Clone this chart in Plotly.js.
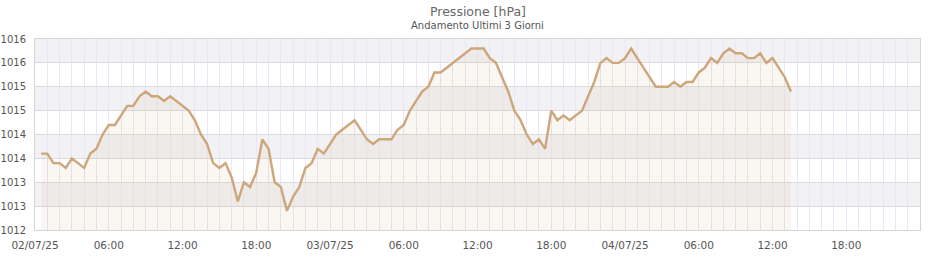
<!DOCTYPE html>
<html>
<head>
<meta charset="utf-8">
<script src="https://cdn.plot.ly/plotly-3.0.1.min.js"></script>
<style>html,body{margin:0;padding:0;background:#fff}#chart{width:940px;height:260px}</style>
</head>
<body>
<div id="chart"></div>
<script>
// ---- data ----
var seriesStart = '2025-07-02T00:30:00';
var stepMinutes = 30;
var pressure = [
  1013.6, 1013.6, 1013.4, 1013.4, 1013.3, 1013.5, 1013.4, 1013.3, 1013.6, 1013.7,
  1014.0, 1014.2, 1014.2, 1014.4, 1014.6, 1014.6, 1014.8, 1014.9, 1014.8, 1014.8,
  1014.7, 1014.8, 1014.7, 1014.6, 1014.5, 1014.3, 1014.0, 1013.8, 1013.4, 1013.3,
  1013.4, 1013.1, 1012.6, 1013.0, 1012.9, 1013.2, 1013.9, 1013.7, 1013.0, 1012.9,
  1012.4, 1012.7, 1012.9, 1013.3, 1013.4, 1013.7, 1013.6, 1013.8, 1014.0, 1014.1,
  1014.2, 1014.3, 1014.1, 1013.9, 1013.8, 1013.9, 1013.9, 1013.9, 1014.1, 1014.2,
  1014.5, 1014.7, 1014.9, 1015.0, 1015.3, 1015.3, 1015.4, 1015.5, 1015.6, 1015.7,
  1015.8, 1015.8, 1015.8, 1015.6, 1015.5, 1015.2, 1014.9, 1014.5, 1014.3, 1014.0,
  1013.8, 1013.9, 1013.7, 1014.5, 1014.3, 1014.4, 1014.3, 1014.4, 1014.5, 1014.8,
  1015.1, 1015.5, 1015.6, 1015.5, 1015.5, 1015.6, 1015.8, 1015.6, 1015.4, 1015.2,
  1015.0, 1015.0, 1015.0, 1015.1, 1015.0, 1015.1, 1015.1, 1015.3, 1015.4, 1015.6,
  1015.5, 1015.7, 1015.8, 1015.7, 1015.7, 1015.6, 1015.6, 1015.7, 1015.5, 1015.6,
  1015.4, 1015.2, 1014.9
];
var xRange = ['2025-07-02 00:00', '2025-07-05 00:00'];
var xTickVals = [
  '2025-07-02 00:00', '2025-07-02 06:00', '2025-07-02 12:00', '2025-07-02 18:00',
  '2025-07-03 00:00', '2025-07-03 06:00', '2025-07-03 12:00', '2025-07-03 18:00',
  '2025-07-04 00:00', '2025-07-04 06:00', '2025-07-04 12:00', '2025-07-04 18:00'
];
var xTickText = ['02/07/25', '06:00', '12:00', '18:00', '03/07/25', '06:00', '12:00', '18:00', '04/07/25', '06:00', '12:00', '18:00'];
var yTickVals = [1012, 1012.5, 1013, 1013.5, 1014, 1014.5, 1015, 1015.5, 1016];
var yTickText = ['1012', '1013', '1013', '1014', '1014', '1015', '1015', '1016', '1016'];
var titleText = 'Pressione [hPa]';
var subtitleText = 'Andamento Ultimi 3 Giorni';

// ---- build ----
function pad(n) { return (n < 10 ? '0' : '') + n; }
var times = [];
var t0 = new Date(seriesStart + 'Z').getTime();
for (var i = 0; i < pressure.length; i++) {
  var d = new Date(t0 + i * stepMinutes * 60000);
  times.push(d.getUTCFullYear() + '-' + pad(d.getUTCMonth() + 1) + '-' + pad(d.getUTCDate()) + ' ' + pad(d.getUTCHours()) + ':' + pad(d.getUTCMinutes()));
}

var lineColor = '#cda67b';
var font = 'DejaVu Sans, Verdana, sans-serif';

var shapes = [];
for (var k = 1; k < yTickVals.length - 1; k += 2) {
  shapes.push({type: 'rect', xref: 'paper', yref: 'y', x0: 0, x1: 1,
    y0: yTickVals[k], y1: yTickVals[k + 1], fillcolor: '#f2f2f4', line: {width: 0}, layer: 'below'});
}

var trace = {
  x: times, y: pressure, type: 'scatter', mode: 'lines',
  line: {color: lineColor, width: 2.4},
  fill: 'tozeroy', fillcolor: 'rgba(205,166,123,0.10)',
  hoverinfo: 'x+y'
};

var layout = {
  width: 940, height: 260,
  margin: {l: 35, r: 20, t: 39, b: 30},
  paper_bgcolor: '#ffffff', plot_bgcolor: '#ffffff',
  showlegend: false,
  font: {family: font, size: 10.5, color: '#555'},
  shapes: shapes,
  annotations: [
    {text: titleText, xref: 'paper', yref: 'paper', x: 0.5, y: (230 - 11) / 191, xanchor: 'center', yanchor: 'middle', showarrow: false, font: {family: font, size: 12.5, color: '#666'}},
    {text: subtitleText, xref: 'paper', yref: 'paper', x: 0.5, y: (230 - 26) / 191, xanchor: 'center', yanchor: 'middle', showarrow: false, font: {family: font, size: 10, color: '#555'}}
  ],
  xaxis: {
    type: 'date', range: xRange, tickmode: 'array', tickvals: xTickVals, ticktext: xTickText,
    showgrid: true, gridcolor: '#e8e6f7', gridwidth: 1,
    minor: {dtick: 3600000, tick0: '2025-07-02 00:00', showgrid: true, gridcolor: '#e8e6f7', gridwidth: 1},
    showline: true, mirror: true, linecolor: '#d6d6d6', linewidth: 1,
    ticks: '', ticklabelstandoff: 5, zeroline: false, fixedrange: true,
    tickfont: {family: font, size: 10.5, color: '#555'}
  },
  yaxis: {
    range: [1012, 1016], tickmode: 'array', tickvals: yTickVals, ticktext: yTickText,
    showgrid: true, gridcolor: '#dcdcdc', gridwidth: 1,
    showline: true, mirror: true, linecolor: '#d6d6d6', linewidth: 1,
    ticks: '', ticklabelstandoff: 6, zeroline: false, fixedrange: true,
    tickfont: {family: font, size: 10, color: '#555'}
  }
};

Plotly.newPlot('chart', [trace], layout, {displayModeBar: false, staticPlot: true});
</script>
</body>
</html>
